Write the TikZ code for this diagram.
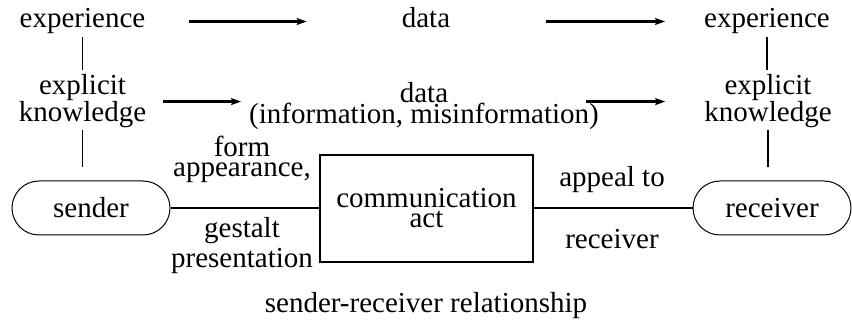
\documentclass[tikz,border=0pt]{standalone}
\usepackage{fontspec}
\setmainfont{Liberation Serif}
\usetikzlibrary{arrows.meta,shapes.misc,calc}
\begin{document}
\begin{tikzpicture}[x=1pt,y=-1pt,
  lbl/.style={inner sep=0pt, font=\fontsize{29}{29}\selectfont, align=center, anchor=base},
  thinline/.style={line width=1.2pt},
  arr/.style={line width=2.6pt, -{Stealth[length=10pt,width=7pt,inset=2pt]}},
  stadium/.style={draw, line width=1pt, rounded rectangle, minimum width=158pt, minimum height=54pt, inner sep=0pt, font=\fontsize{29}{29}\selectfont},
  actbox/.style={draw, line width=1.4pt, minimum width=213pt, minimum height=107pt, inner sep=0pt, align=center, font=\fontsize{29}{20}\selectfont}
]
\useasboundingbox (0,0) rectangle (852,320);

% multi-line nodes: base anchor = baseline of the last line
\node[lbl] (exL) at (82.5,28) {experience};
\node[lbl] (data1) at (426,28) {data};
\node[lbl] (exR) at (767,28) {experience};
\node[lbl, font=\fontsize{29}{27}\selectfont] (ekL) at (82.5,122) {explicit\\knowledge};
\node[lbl, font=\fontsize{29}{21}\selectfont] (data2) at (424,124) {data\\(information, misinformation)};
\node[lbl, font=\fontsize{29}{27}\selectfont] (ekR) at (768,122) {explicit\\knowledge};
\node[stadium] (sender) at (91,208) {sender};
\node[actbox] (act) at (426.5,208.5) {communication\\act};
\node[stadium] (receiver) at (772,208) {receiver};
\node[lbl, font=\fontsize{29}{20}\selectfont] (formlbl) at (242,177) {form\\appearance,};
\node[lbl, font=\fontsize{29}{30}\selectfont] (gestlbl) at (242,268) {gestalt\\presentation};
\node[lbl] (appeal) at (612,187) {appeal to};
\node[lbl] (recvlbl) at (612,249) {receiver};
\node[lbl] (rel) at (426,313) {sender-receiver relationship};

% vertical connectors
\draw[thinline, shorten <=3pt, shorten >=5pt] (exL.south) -- (exL.south |- ekL.north);
\draw[thinline, shorten <=2pt, shorten >=13pt] (ekL.south) -- (ekL.south |- sender.north);
\draw[thinline, shorten <=3pt, shorten >=5pt] (exR.south) -- (exR.south |- ekR.north);
\draw[thinline, shorten <=2pt, shorten >=13pt] (ekR.south) -- (ekR.south |- receiver.north);

% horizontal connectors
\draw[thinline] (sender.east) -- (sender.east -| act.west);
\draw[thinline] (act.east |- receiver.west) -- (receiver.west);

% arrows
\draw[arr] ($(exL.east)+(44,0)$) -- ($(exL.east -| data1.west)+(-95,0)$);
\draw[arr] ($(data1.east |- exR.west)+(96,0)$) -- ($(exR.west)+(-39,0)$);
\draw[arr] ($(ekL.east)+(17,0)$) -- ($(ekL.east -| data2.west)+(-8,0)$);
\draw[arr] ($(data2.east |- ekR.west)+(-13,0)$) -- ($(ekR.west)+(-39,0)$);
\end{tikzpicture}
\end{document}
